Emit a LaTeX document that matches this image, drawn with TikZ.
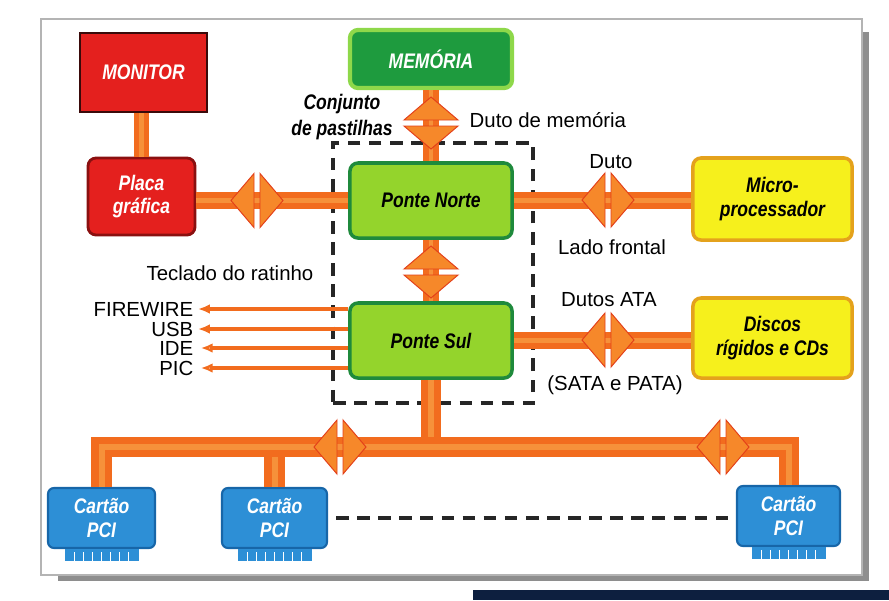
\documentclass[tikz,border=0pt]{standalone}
\usepackage{fontspec}
\setmainfont{Liberation Sans}
\newfontfamily\caixafont[FakeStretch=0.83]{Liberation Sans}
\usepackage{tikz}
\usetikzlibrary{arrows.meta, positioning, calc}

\definecolor{redfill}{HTML}{E4201E}
\definecolor{redborder}{HTML}{8A1010}
\definecolor{monborder}{HTML}{3A0A0A}
\definecolor{memfill}{HTML}{1E9B3E}
\definecolor{memborder}{HTML}{8ED84A}
\definecolor{pontefill}{HTML}{94D42C}
\definecolor{ponteborder}{HTML}{1F8A3C}
\definecolor{yellowfill}{HTML}{F6F01C}
\definecolor{yellowborder}{HTML}{E4A21C}
\definecolor{pcifill}{HTML}{2D8FD6}
\definecolor{pciborder}{HTML}{1766A8}
\definecolor{busorange}{HTML}{F26C1E}
\definecolor{buslight}{HTML}{F6913A}
\definecolor{arrowfill}{HTML}{F6882A}
\definecolor{arrowedge}{HTML}{E3401A}
\definecolor{framegray}{HTML}{B4B4B4}
\definecolor{shadowgray}{HTML}{8E8E8E}
\definecolor{barnavy}{HTML}{0D1F3F}

\tikzset{
  caixa/.style={rounded corners=0.2cm, align=center, inner sep=0pt,
    font=\caixafont\bfseries\itshape\fontsize{15}{17}\selectfont},
  vermelho/.style={caixa, fill=redfill, draw=redborder, line width=2pt, text=white},
  memoria/.style={caixa, fill=memfill, draw=memborder, line width=3pt, text=white},
  ponte/.style={caixa, fill=pontefill, draw=ponteborder, line width=2.5pt, text=black},
  amarelo/.style={caixa, fill=yellowfill, draw=yellowborder, line width=2.5pt, text=black},
  cartao/.style={caixa, rounded corners=0.15cm, fill=pcifill, draw=pciborder, line width=1.5pt,
    text=white, minimum height=1.5cm},
  rotulo/.style={inner sep=1pt, font=\fontsize{14.5}{17}\selectfont},
  bus/.style={draw=busorange, line width=0.42cm, postaction={draw=buslight, line width=0.12cm}},
  busfino/.style={bus, line width=0.36cm},
  busgrosso/.style={draw=busorange, line width=0.5cm, postaction={draw=buslight, line width=0.15cm}},
  fio/.style={draw=busorange, line width=2.3pt},
  pastilhas/.style={draw=black!85, line width=2.6pt, dash pattern=on 9pt off 6pt},
  dupla/.pic={
    \path[fill=arrowfill, draw=arrowedge, line width=0.7pt] (3,-27) -- (26,0) -- (3,27) -- cycle;
    \path[fill=arrowfill, draw=arrowedge, line width=0.7pt] (-3,-27) -- (-26,0) -- (-3,27) -- cycle;
  },
  pinos/.pic={
    \fill[pcifill] (-37,0) rectangle (37,12);
    \foreach \k in {-3,...,3}
      \draw[white, line width=0.9pt] (\k*9,3) -- (\k*9,12);
  }
}

\begin{document}
\begin{tikzpicture}[x=0.025cm, y=-0.025cm, >=Latex]

    \useasboundingbox (0,0) rectangle (889,600);

    % ================= moldura =================
    \fill[shadowgray] (862,32) rectangle (869,581);
    \fill[shadowgray] (58,575) rectangle (869,581);
    \draw[framegray, line width=0.8pt] (41,19) rectangle (862,575);
    \fill[barnavy] (473,590) rectangle (889,600);

    % ================= caixas =================
    \node[vermelho, sharp corners, draw=monborder, minimum width=3.175cm, minimum height=1.975cm] (MON) at (143.5,72.5) {MONITOR};
    \node[vermelho, minimum width=2.675cm, minimum height=1.925cm] (PLACA) at (141.5,196.5) {Placa\\gráfica};
    \node[memoria, minimum width=4.05cm, minimum height=1.45cm] (MEM) at (431,59) {MEMÓRIA};
    \node[ponte, minimum width=4.05cm, minimum height=1.875cm] (PN) at (431,200.5) {Ponte Norte};
    \node[ponte, minimum width=4.05cm, minimum height=1.875cm] (PS) at (431,340.5) {Ponte Sul};
    \node[amarelo, minimum width=3.975cm, minimum height=2.05cm] (CPU) at (772.5,199) {Micro-\\processador};
    \node[amarelo, minimum width=3.975cm, minimum height=2cm] (HD) at (772.5,338) {Discos\\rígidos e CDs};

    % cartoes PCI
    \node[cartao, minimum width=2.675cm] (PCI1) at (101.5,518) {Cartão\\PCI};
    \node[cartao, minimum width=2.625cm] (PCI2) at (274.5,518) {Cartão\\PCI};
    \node[cartao, minimum width=2.575cm] (PCI3) at (788.5,516) {Cartão\\PCI};
    \pic at (PCI1.south) {pinos};
    \pic at (PCI2.south) {pinos};
    \pic at (PCI3.south) {pinos};

    % conjunto de pastilhas
    \node[pastilhas, minimum width=5cm, minimum height=6.5cm] (CHIP) at (433,273) {};

    % ================= dutos =================
    \draw[busfino] (PLACA.north |- MON.south) -- (PLACA.north);
    \draw[bus] (PN.west -| PLACA.east) -- (PN.west);
    \draw[bus] (MEM.south) -- (PN.north);
    \draw[bus] (PN.east) -- (PN.east -| CPU.west);
    \draw[bus] (PN.south) -- (PS.north);
    \draw[bus] (PS.east) -- (PS.east -| HD.west);

    % barramento PCI
    \coordinate (barra) at (431,447);
    \draw[busgrosso] (PS.south) -- (barra);
    \draw[busgrosso] (PCI2.north) -- (PCI2.north |- barra);
    \draw[busgrosso] (PCI1.north) |- (barra) -| (PCI3.north);

    % setas duplas
    \pic at (257,200.5) {dupla};
    \pic[rotate=90] at (431,123) {dupla};
    \pic at (608,200) {dupla};
    \pic[rotate=90] at (431,272) {dupla};
    \pic at (608,340) {dupla};
    \pic at (340,447) {dupla};
    \pic at (723,447) {dupla};

    \draw[pastilhas, shorten <=0.2cm, shorten >=0.1cm] (PCI2.east) -- (PCI2.east -| PCI3.west);

    % ================= textos =================
    \node[rotulo, align=center, font=\caixafont\bfseries\itshape\fontsize{15}{18}\selectfont] (conj) at (342,117) {Conjunto\\de pastilhas};
    \node[rotulo, anchor=west] (duto_mem) at (468,120) {Duto de memória};
    \node[rotulo] (duto) at (611,162) {Duto};
    \node[rotulo] (lado) at (612,247) {Lado frontal};
    \node[rotulo] (teclado) at (230,273) {Teclado do ratinho};
    \node[rotulo] (ata) at (609,300) {Dutos ATA};
    \node[rotulo] (sata) at (615,385) {(SATA e PATA)};

    \node[rotulo, anchor=east] (fw)  at (195,309) {FIREWIRE};
    \node[rotulo, anchor=east] (usb) at (195,329) {USB};
    \node[rotulo, anchor=east] (ide) at (195,348) {IDE};
    \node[rotulo, anchor=east] (pic) at (195,368) {PIC};

    % ================= fios da ponte sul =================
    \draw[fio, -{Latex[length=0.3cm, width=0.24cm]}] (PS.west |- fw.east) -- ([xshift=2pt]fw.east);
    \draw[fio, -{Latex[length=0.3cm, width=0.24cm]}] (PS.west |- usb.east) -- ([xshift=2pt]usb.east);
    \draw[fio, -{Latex[open, length=0.3cm, width=0.24cm]}] (PS.west |- ide.east) -- ([xshift=4pt]ide.east);
    \draw[fio, -{Latex[open, length=0.3cm, width=0.24cm]}] (PS.west |- pic.east) -- ([xshift=4pt]pic.east);

\end{tikzpicture}
\end{document}
